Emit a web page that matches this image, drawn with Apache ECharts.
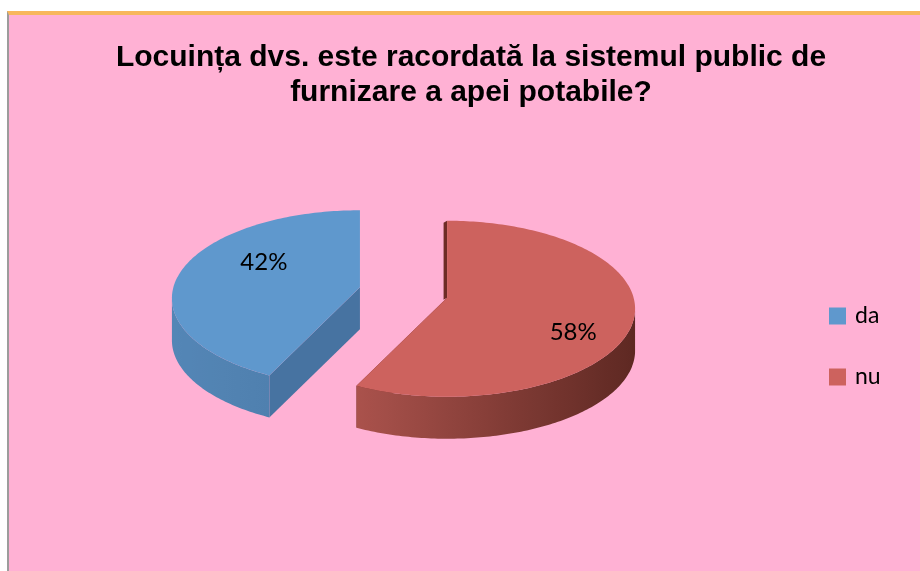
<!DOCTYPE html>
<html><head><meta charset="utf-8">
<script src="https://cdn.jsdelivr.net/npm/echarts@6/dist/echarts.min.js"></script>
<style>
html,body{margin:0;padding:0;background:#fff;width:920px;height:571px;overflow:hidden;}
#frame{position:absolute;left:7px;top:11px;width:911px;height:556px;border-left:2px solid #9c9c9c;border-top:4px solid #F8B75C;background:#FFB1D4;}
#chart{position:absolute;left:0;top:0;width:920px;height:571px;}
</style></head><body>
<div id="frame"></div><div id="chart"></div>
<script>
// ---- data ----
const categories = ['da', 'nu'];
const values = [42, 58];
const titleText = 'Locuința dvs. este racordată la sistemul public de\nfurnizare a apei potabile?';

// ---- styles ----
const topColors = ['#5F98CD', '#CD625E'];
const sideDark = [[66, 110, 156], [94, 40, 34]];    // shade at f=0 (right-facing)
const sideLight = [[84, 134, 182], [197, 97, 91]];  // shade at f=1 (left-facing)
const cutColors = ['#4773A1', '#6E2C26'];
const cutStrip = [0, 3.5];
const PIE = {cx: 403.5, cy: 292.5, rx: 188, ry: 88, tilt: 11, depth: 42, explode: 45,
             labelRx: 0.61, labelRy: 1.35, labelDx: 15, labelDy: -6.5};

const total = values.reduce((a, b) => a + b, 0);
const rot = 360 - values[0] / total * 360; // first slice ends at 12 o'clock
const rad = d => d * Math.PI / 180;
function sliceAngles(i) {
  let s = rot;
  for (let k = 0; k < i; k++) s += values[k] / total * 360;
  return [s, s + values[i] / total * 360];
}
function mix(a, b, f) {
  return 'rgb(' + a.map((v, j) => Math.round(v + (b[j] - v) * f)).join(',') + ')';
}
function renderSlice(i) {
  const [a0, a1] = sliceAngles(i);
  const mid = rad((a0 + a1) / 2);
  const ax = PIE.cx + PIE.explode * Math.sin(mid);
  const ay = PIE.cy - PIE.explode * Math.cos(mid) * PIE.ry / PIE.rx;
  const ecx = ax, ecy = ay + PIE.tilt;
  const rim = d => [ecx + PIE.rx * Math.sin(rad(d)), ecy - PIE.ry * Math.cos(rad(d))];
  const n = Math.ceil(a1 - a0);
  const pts = [], angs = [];
  for (let k = 0; k <= n; k++) { const d = a0 + (a1 - a0) * k / n; angs.push(d); pts.push(rim(d)); }
  const D = PIE.depth;
  const children = [];
  // cut faces
  [pts[0], pts[pts.length - 1]].forEach(p => children.push({
    type: 'polygon',
    shape: {points: [[ax, ay], p, [p[0], p[1] + D], [ax, ay + D]]},
    style: {fill: cutColors[i]}
  }));
  // outer curved side (front-facing part) with horizontal gradient
  const vis = [];
  for (let k = 0; k <= n; k++) if (Math.cos(rad(angs[k])) <= 0.001) vis.push(k);
  if (vis.length > 1) {
    const top = vis.map(k => pts[k]);
    const bot = top.map(p => [p[0], p[1] + D]).reverse();
    const xs = top.map(p => p[0]);
    const xmin = Math.min(...xs), xmax = Math.max(...xs);
    const stops = vis.filter((k, j) => j % 6 === 0 || j === vis.length - 1).map(k => {
      const f = (1 - Math.sin(rad(angs[k]))) / 2;
      return {offset: (pts[k][0] - xmin) / (xmax - xmin), color: mix(sideDark[i], sideLight[i], f)};
    }).sort((a, b) => a.offset - b.offset);
    children.push({
      type: 'polygon',
      shape: {points: top.concat(bot)},
      style: {fill: new echarts.graphic.LinearGradient(xmin, 0, xmax, 0, stops, true)}
    });
  }
  // thin visible strip of the start cut face
  if (cutStrip[i] > 0) {
    const p = pts[0];
    children.push({
      type: 'polygon',
      shape: {points: [[ax - cutStrip[i], ay + 2], [p[0] - cutStrip[i], p[1] + 2], [p[0], p[1]], [ax, ay]]},
      style: {fill: cutColors[i]}
    });
  }
  // top face
  children.push({
    type: 'polygon',
    shape: {points: [[ax, ay]].concat(pts)},
    style: {fill: topColors[i]}
  });
  // percentage label
  children.push({
    type: 'text',
    style: {
      text: Math.round(values[i] / total * 100) + '%',
      x: ecx + PIE.labelRx * PIE.rx * Math.sin(mid) + PIE.labelDx,
      y: ecy - PIE.labelRy * PIE.ry * Math.cos(mid) + PIE.labelDy,
      fill: '#000', font: '24px Lato', align: 'center', verticalAlign: 'middle'
    }
  });
  return {type: 'group', children};
}

const chart = echarts.init(document.getElementById('chart'));
chart.setOption({
  animation: false,
  backgroundColor: 'transparent',
  title: {
    text: titleText, left: 466, top: 35, textAlign: 'center',
    textStyle: {fontFamily: 'Liberation Sans', fontWeight: 'bold', fontSize: 30, lineHeight: 35, color: '#000'}
  },
  legend: {
    data: categories, orient: 'vertical', left: 829, top: 304, padding: 0,
    icon: 'rect', itemWidth: 17, itemHeight: 17, itemGap: 37, selectedMode: false,
    textStyle: {fontFamily: 'Lato', fontSize: 23, lineHeight: 24, color: '#000', padding: [0, 0, 0, 4]}
  },
  series: categories.map((name, i) => ({
    type: 'custom', name: name, coordinateSystem: 'none',
    itemStyle: {color: topColors[i]},
    data: [[values[i]]],
    renderItem: () => renderSlice(i)
  }))
});
</script>
</body></html>
